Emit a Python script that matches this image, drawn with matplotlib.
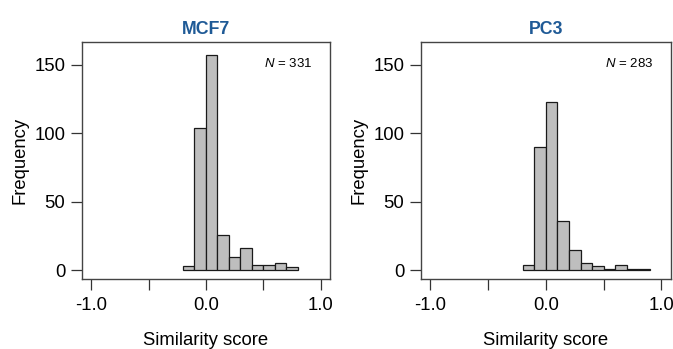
"""Similarity score histograms for MCF7 and PC3."""
import numpy as np
import matplotlib
matplotlib.use("Agg")
import matplotlib.pyplot as plt

plt.rcParams["font.family"] = ["Liberation Sans", "DejaVu Sans"]
plt.rcParams["mathtext.fontset"] = "custom"
plt.rcParams["mathtext.it"] = "Liberation Sans:italic"
plt.rcParams["mathtext.rm"] = "Liberation Sans"

bin_width = 0.1

mcf7_left = [-0.2, -0.1, 0.0, 0.1, 0.2, 0.3, 0.4, 0.5, 0.6, 0.7]
mcf7_counts = [3, 104, 157, 26, 10, 16, 4, 4, 5, 2]

pc3_left = [-0.2, -0.1, 0.0, 0.1, 0.2, 0.3, 0.4, 0.5, 0.6, 0.7, 0.8]
pc3_counts = [4, 90, 123, 36, 15, 5, 3, 1, 4, 1, 1]

panels = [
    ("MCF7", mcf7_left, mcf7_counts, [0.1218, 0.2006, 0.3685, 0.679]),
    ("PC3", pc3_left, pc3_counts, [0.6256, 0.2006, 0.371, 0.679]),
]

x_ticks = [-1.0, -0.5, 0.0, 0.5, 1.0]
x_labels = ["-1.0", "", "0.0", "", "1.0"]
y_ticks = [0, 50, 100, 150]

fig = plt.figure(figsize=(6.73, 3.49), dpi=100)

for name, left, counts, pos in panels:
    ax = fig.add_axes(pos)
    ax.bar(left, counts, width=bin_width, align="edge",
           color="#bebebe", edgecolor="#1a1a1a", linewidth=0.9)
    ax.set_xlim(-1.08, 1.08)
    ax.set_ylim(-6.4, 166.4)
    ax.set_xticks(x_ticks)
    ax.set_xticklabels(x_labels)
    ax.set_yticks(y_ticks)
    ax.tick_params(direction="out", length=8, width=0.9, color="#333333",
                   labelsize=13.3, pad=4)
    ax.tick_params(axis="x", pad=5)
    for s in ax.spines.values():
        s.set_color("#444444")
        s.set_linewidth(1.0)
    ax.set_title(name, color="#1f5a96", fontweight="bold", fontsize=12.8, pad=6)
    ax.set_xlabel("Similarity score", fontsize=13.3, labelpad=13)
    ax.set_ylabel("Frequency", fontsize=13.3, labelpad=4)
    ax.text(0.93, 0.91, f"$N$ = {sum(counts)}", transform=ax.transAxes,
            ha="right", va="center", fontsize=9.5)

fig.savefig("out.png", dpi=100)
